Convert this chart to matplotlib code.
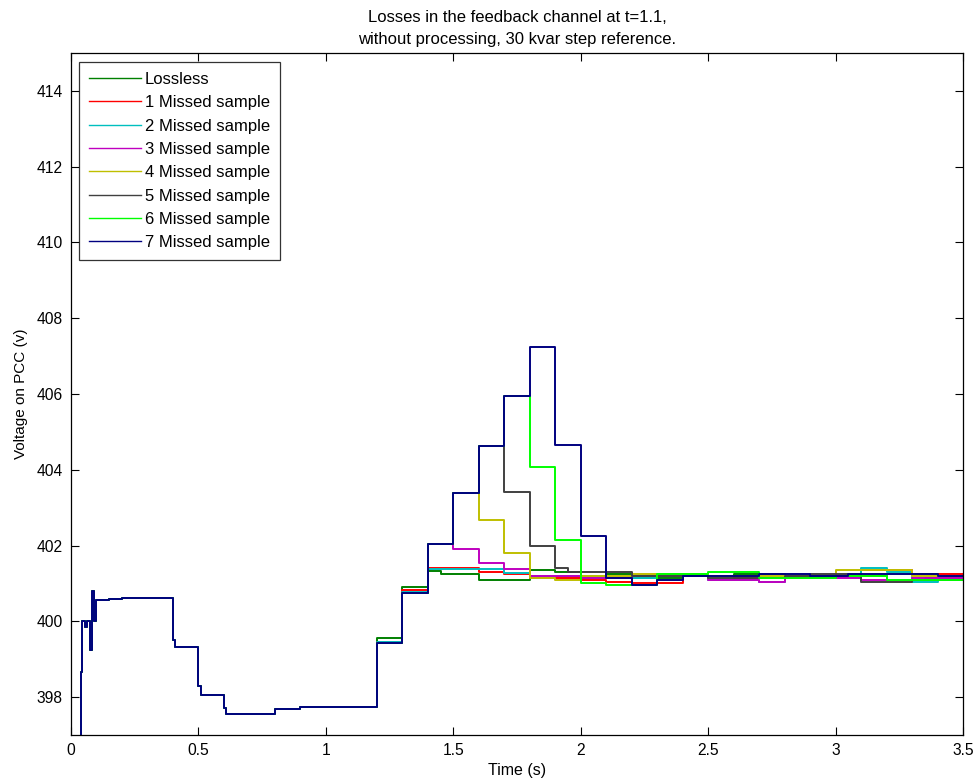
import matplotlib

matplotlib.use("Agg")
import matplotlib.pyplot as plt  # noqa: E402

# shared part of every trace before t = 1.2 s
prefix_t = [0.0, 0.04, 0.045, 0.055, 0.062, 0.075, 0.081, 0.092, 0.097, 0.15,
            0.2, 0.4, 0.41, 0.5, 0.51, 0.6, 0.61, 0.8, 0.9]
prefix_v = [396.0, 398.65, 400.0, 399.85, 400.0, 399.25, 400.8, 400.0, 400.55,
            400.6, 400.62, 399.5, 399.32, 398.3, 398.05, 397.7, 397.55, 397.68,
            397.75]

labels = ["Lossless", "1 Missed sample", "2 Missed sample", "3 Missed sample",
          "4 Missed sample", "5 Missed sample", "6 Missed sample", "7 Missed sample"]
colors = [(0, 0.5, 0), (1, 0, 0), (0, 0.75, 0.75), (0.75, 0, 0.75),
          (0.75, 0.75, 0), (0.25, 0.25, 0.25), (0, 1, 0), (0, 0, 0.5)]

# step levels from t = 1.2 s onwards
lossless_t = [1.2, 1.3, 1.4, 1.45, 1.6, 1.8, 1.9, 2.0, 2.1, 2.2, 2.4, 2.6, 2.8,
              3.0, 3.2, 3.35]
lossless_v = [399.55, 400.9, 401.33, 401.25, 401.1, 401.35, 401.3, 401.2, 401.25,
              401.15, 401.2, 401.25, 401.15, 401.2, 401.1, 401.15]
miss1_t = [1.2, 1.3, 1.4, 1.6, 1.7, 1.8, 2.0, 2.1, 2.2, 2.4, 2.6, 2.8, 3.1, 3.3]
miss1_v = [399.45, 400.82, 401.42, 401.3, 401.25, 401.15, 401.1, 401.05, 401.0,
           401.2, 401.15, 401.2, 401.35, 401.25]
miss2_t = [1.2, 1.3, 1.4, 1.7, 1.8, 2.0, 2.3, 2.5, 2.7, 2.8, 3.1, 3.2, 3.3, 3.4]
miss2_v = [399.45, 400.78, 401.38, 401.27, 401.2, 401.15, 401.25, 401.1, 401.05,
           401.2, 401.4, 401.3, 401.05, 401.2]
miss3_t = [1.2, 1.3, 1.4, 1.5, 1.6, 1.7, 1.8, 2.0, 2.2, 2.5, 2.7, 2.8, 3.1, 3.3]
miss3_v = [399.43, 400.75, 402.05, 401.92, 401.55, 401.37, 401.2, 401.15, 401.2,
           401.1, 401.05, 401.15, 401.1, 401.15]
miss4_t = [1.2, 1.3, 1.4, 1.5, 1.6, 1.7, 1.8, 1.9, 2.0, 2.2, 2.5, 3.0, 3.3]
miss4_v = [399.43, 400.75, 402.05, 403.38, 402.67, 401.8, 401.15, 401.1, 401.2,
           401.25, 401.2, 401.35, 401.2]
miss5_t = [1.2, 1.3, 1.4, 1.5, 1.6, 1.7, 1.8, 1.9, 1.95, 2.2, 2.5, 2.8, 2.9,
           3.1, 3.3]
miss5_v = [399.43, 400.75, 402.05, 403.38, 404.62, 403.42, 402.0, 401.4, 401.3,
           401.2, 401.15, 401.2, 401.25, 401.05, 401.1]
miss6_t = [1.2, 1.3, 1.4, 1.5, 1.6, 1.7, 1.8, 1.9, 2.0, 2.1, 2.3, 2.5, 2.7,
           3.0, 3.2]
miss6_v = [399.43, 400.75, 402.05, 403.38, 404.62, 405.94, 404.07, 402.14, 401.0,
           400.95, 401.25, 401.3, 401.15, 401.2, 401.1]
miss7_t = [1.2, 1.3, 1.4, 1.5, 1.6, 1.7, 1.8, 1.9, 2.0, 2.1, 2.2, 2.3, 2.4, 2.7,
           2.9, 3.05, 3.4]
miss7_v = [399.43, 400.75, 402.05, 403.38, 404.62, 405.94, 407.25, 404.65,
           402.25, 401.15, 400.95, 401.1, 401.2, 401.25, 401.2, 401.25, 401.2]

tails = [(lossless_t, lossless_v), (miss1_t, miss1_v), (miss2_t, miss2_v),
         (miss3_t, miss3_v), (miss4_t, miss4_v), (miss5_t, miss5_v),
         (miss6_t, miss6_v), (miss7_t, miss7_v)]
t_end = 3.5

plt.rcParams["font.family"] = ["Liberation Sans", "DejaVu Sans"]

fig = plt.figure(figsize=(9.79, 7.82), dpi=100)
ax = fig.add_axes([0.0725, 0.0601, 0.9112, 0.8721])

for (tt, vv), lab, col in zip(tails, labels, colors):
    t = prefix_t + tt + [t_end]
    v = prefix_v + vv + [vv[-1]]
    ax.step(t, v, where="post", color=col, lw=1.4, label=lab)

ax.set_xlim(0, 3.5)
ax.set_ylim(397, 415)
ax.set_xticks([0, 0.5, 1, 1.5, 2, 2.5, 3, 3.5])
ax.set_xticklabels(["0", "0.5", "1", "1.5", "2", "2.5", "3", "3.5"])
ax.set_yticks(range(398, 415, 2))
ax.tick_params(direction="in", top=True, right=True, length=6, width=0.8,
               labelsize=11.25, pad=6)
for sp in ax.spines.values():
    sp.set_linewidth(0.9)

ax.set_xlabel("Time (s)", fontsize=11.5, labelpad=3)
ax.set_ylabel("Voltage on PCC (v)", fontsize=11, labelpad=6)
ax.set_title("Losses in the feedback channel at t=1.1,\n"
             "without processing, 30 kvar step reference.",
             fontsize=12, linespacing=1.6, pad=6.5)

leg = ax.legend(loc="upper left", bbox_to_anchor=(0.009, 0.987), fontsize=12,
                frameon=True, fancybox=False, edgecolor="black",
                handlelength=3.1, handletextpad=0.26, labelspacing=0.5,
                borderpad=0.6, borderaxespad=0)
leg.get_frame().set_linewidth(0.9)
for line in leg.get_lines():
    line.set_linewidth(1.0)

fig.savefig("out.png", dpi=100)
plt.close(fig)
